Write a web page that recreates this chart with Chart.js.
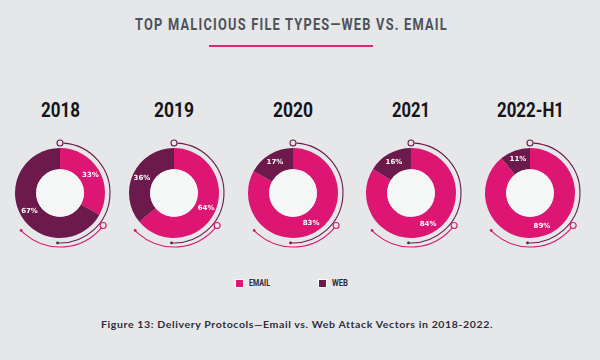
<!DOCTYPE html>
<html><head><meta charset="utf-8">
<script src="https://cdn.jsdelivr.net/npm/chart.js@4.4.0/dist/chart.umd.min.js"></script>
<style>
html,body{margin:0;padding:0;background:#e6e7e8;}
#wrap{position:relative;width:600px;height:360px;background:#e6e7e8;overflow:hidden;}
.fit{position:absolute;white-space:nowrap;transform-origin:0 0;}
#title{top:15px;font-family:Roboto,"DejaVu Sans",sans-serif;font-weight:bold;font-size:16.5px;letter-spacing:1.6px;color:#4d525c;}
#uline{position:absolute;left:209px;width:164px;top:45px;height:2px;background:#e0257a;}
.year{top:98px;font-family:Roboto,"DejaVu Sans",sans-serif;font-weight:bold;font-size:21px;color:#15151c;}
.cv{position:absolute;width:120px;height:120px;top:133px;}
.lgtxt{font-family:Roboto,"DejaVu Sans",sans-serif;font-weight:bold;font-size:8.5px;color:#2a2a35;top:278px;}
.sw{position:absolute;width:9px;height:9px;top:279px;border:0.6px solid #fff;box-sizing:border-box;}
#caption{top:318px;font-family:Lato,"DejaVu Sans",sans-serif;font-weight:bold;font-size:10px;letter-spacing:0.55px;color:#2e2e3a;}
</style></head>
<body><div id="wrap">
<div id="uline"></div>
</div>
<script>
// ---- data ----
const years = ["2018", "2019", "2020", "2021", "2022-H1"];
const seriesNames = ["EMAIL", "WEB"];
const emailPct = [33, 64, 83, 84, 89];
const webPct = [67, 36, 17, 16, 11];
const titleText = "TOP MALICIOUS FILE TYPES—WEB VS. EMAIL";
const captionText = "Figure 13: Delivery Protocols—Email vs. Web Attack Vectors in 2018-2022.";

// ---- style / layout ----
const PINK = "#dc1672";
const PURPLE = "#6c1a4c";
const BG = "#e6e7e8";
const INNER = "#f5f6f6";
const centersX = [60, 174, 293, 411, 530];
const yearWidths = [39, 40, 40, 38, 67];

const wrap = document.getElementById("wrap");

function placeText(cls, id, text, left, width) {
  const el = document.createElement("div");
  el.className = "fit " + cls;
  if (id) el.id = id;
  el.textContent = text;
  wrap.appendChild(el);
  const w = el.getBoundingClientRect().width;
  el.style.left = left + "px";
  el.style.transform = "scaleX(" + (width / w) + ")";
  return el;
}

placeText("", "title", titleText, 135, 313);
placeText("", "caption", captionText, 101, 392);

// legend
const legendX = [235, 318];
const legendTextW = [21, 16];
[PINK, PURPLE].forEach((c, i) => {
  const sw = document.createElement("div");
  sw.className = "sw";
  sw.style.left = legendX[i] + "px";
  sw.style.background = c;
  wrap.appendChild(sw);
  placeText("lgtxt", null, seriesNames[i], legendX[i] + 14, legendTextW[i]);
});

const decoPlugin = {
  id: "deco",
  beforeDatasetsDraw(chart) {
    const arc = chart.getDatasetMeta(0).data[0];
    const ctx = chart.ctx;
    ctx.save();
    const cx = arc.x, cy = arc.y;
    const r1 = arc.outerRadius + 5;
    ctx.lineWidth = 1.1;
    ctx.strokeStyle = PURPLE;
    ctx.beginPath();
    ctx.arc(cx, cy, r1, -Math.PI / 2 + 0.07, Math.PI / 2 + 0.05);
    ctx.stroke();
    ctx.fillStyle = PURPLE;
    ctx.beginPath();
    ctx.arc(cx + r1 * Math.cos(Math.PI / 2 + 0.05), cy + r1 * Math.sin(Math.PI / 2 + 0.05), 1.4, 0, Math.PI * 2);
    ctx.fill();
    ctx.beginPath();
    ctx.arc(cx, cy - r1, 3, 0, Math.PI * 2);
    ctx.fillStyle = BG;
    ctx.fill();
    ctx.stroke();

    const r2 = arc.outerRadius + 9;
    const a0 = 37 * Math.PI / 180, a1 = 136 * Math.PI / 180;
    ctx.strokeStyle = PINK;
    ctx.beginPath();
    ctx.arc(cx, cy, r2, a0 + 0.06, a1);
    ctx.stroke();
    ctx.fillStyle = PINK;
    ctx.beginPath();
    ctx.arc(cx + r2 * Math.cos(a1), cy + r2 * Math.sin(a1), 1.4, 0, Math.PI * 2);
    ctx.fill();
    ctx.beginPath();
    ctx.arc(cx + r2 * Math.cos(a0), cy + r2 * Math.sin(a0), 3, 0, Math.PI * 2);
    ctx.fillStyle = BG;
    ctx.fill();
    ctx.stroke();
    ctx.restore();
  },
  afterDatasetsDraw(chart) {
    const meta = chart.getDatasetMeta(0);
    const ctx = chart.ctx;
    const a = meta.data[0];
    ctx.save();
    ctx.fillStyle = INNER;
    ctx.beginPath();
    ctx.arc(a.x, a.y, a.innerRadius, 0, Math.PI * 2);
    ctx.fill();
    ctx.font = "bold 7px 'DejaVu Sans', sans-serif";
    ctx.fillStyle = "#ffffff";
    ctx.textAlign = "center";
    ctx.textBaseline = "middle";
    const vals = chart.data.datasets[0].data;
    meta.data.forEach((el, i) => {
      const mid = (el.startAngle + el.endAngle) / 2;
      const r = (el.innerRadius + el.outerRadius) / 2 + 1;
      ctx.fillText(vals[i] + "%", el.x + r * Math.cos(mid), el.y + r * Math.sin(mid));
    });
    ctx.restore();
  }
};

years.forEach((y, i) => {
  placeText("year", null, y, centersX[i] - yearWidths[i] / 2, yearWidths[i]);

  const box = document.createElement("div");
  box.className = "cv";
  box.style.left = (centersX[i] - 60) + "px";
  const cv = document.createElement("canvas");
  box.appendChild(cv);
  wrap.appendChild(box);

  new Chart(cv, {
    type: "doughnut",
    data: {
      labels: seriesNames,
      datasets: [{
        data: [emailPct[i], webPct[i]],
        backgroundColor: [PINK, PURPLE],
        borderWidth: 0
      }]
    },
    options: {
      responsive: true,
      maintainAspectRatio: false,
      animation: false,
      radius: 45,
      cutout: "53%",
      layout: { padding: 0 },
      plugins: { legend: { display: false }, tooltip: { enabled: false } }
    },
    plugins: [decoPlugin]
  });
});
</script>
</body></html>
